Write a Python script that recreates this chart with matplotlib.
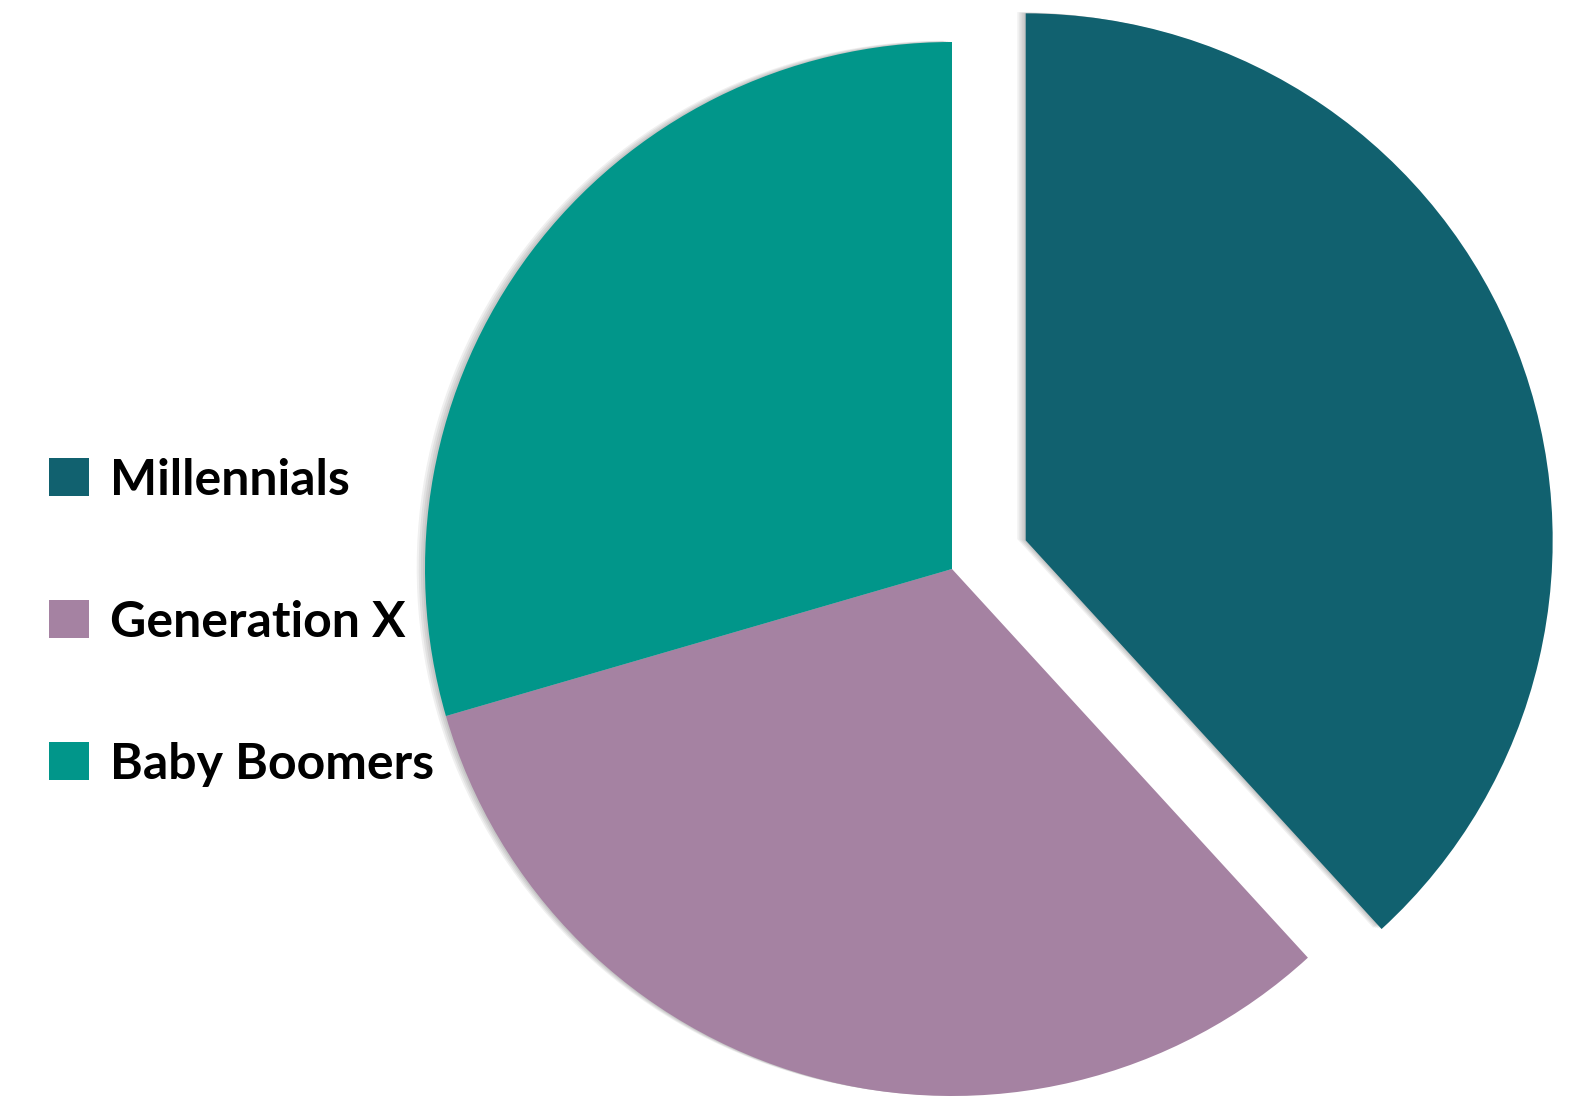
import matplotlib
matplotlib.use("Agg")
import matplotlib.pyplot as plt
import matplotlib.patheffects as pe
from matplotlib.patches import Patch

# slice shares (percent)
labels = ["Millennials", "Generation X", "Baby Boomers"]
shares = [38.2, 32.3, 29.5]
colors = ["#11616f", "#a582a2", "#01968a"]
explode = [0.15, 0, 0]

plt.rcParams["font.family"] = ["Lato", "DejaVu Sans"]

fig = plt.figure(figsize=(15.75, 11.06), dpi=100)
ax = fig.add_axes([0, 0, 1, 1])

# soft shadow to the left: several faint offset copies
shadow = [pe.SimplePatchShadow(offset=(-k, k * 0.15), shadow_rgbFace="black", alpha=0.06)
          for k in (1.5, 3, 4.5, 6)]

wedges, _ = ax.pie(shares, colors=colors, explode=explode, startangle=90,
                   counterclock=False, radius=1.0)
for w in wedges:
    w.set_path_effects(shadow + [pe.Normal()])

# pie centre at (952, 569) px, radius 527 px
ax.set_aspect("auto")
ax.set_xlim(-952 / 527, (1575 - 952) / 527)
ax.set_ylim((569 - 1106) / 527, 569 / 527)
ax.axis("off")

handles = [Patch(facecolor=c, edgecolor="none") for c in colors]
leg = fig.legend(handles, labels, loc="center left", bbox_to_anchor=(49 / 1575, 0.4376),
                 frameon=False, prop={"weight": "bold", "size": 36},
                 handlelength=0.8, handleheight=0.8, handletextpad=0.42,
                 labelspacing=1.94, borderpad=0, borderaxespad=0)

fig.savefig("out.png", dpi=100)
